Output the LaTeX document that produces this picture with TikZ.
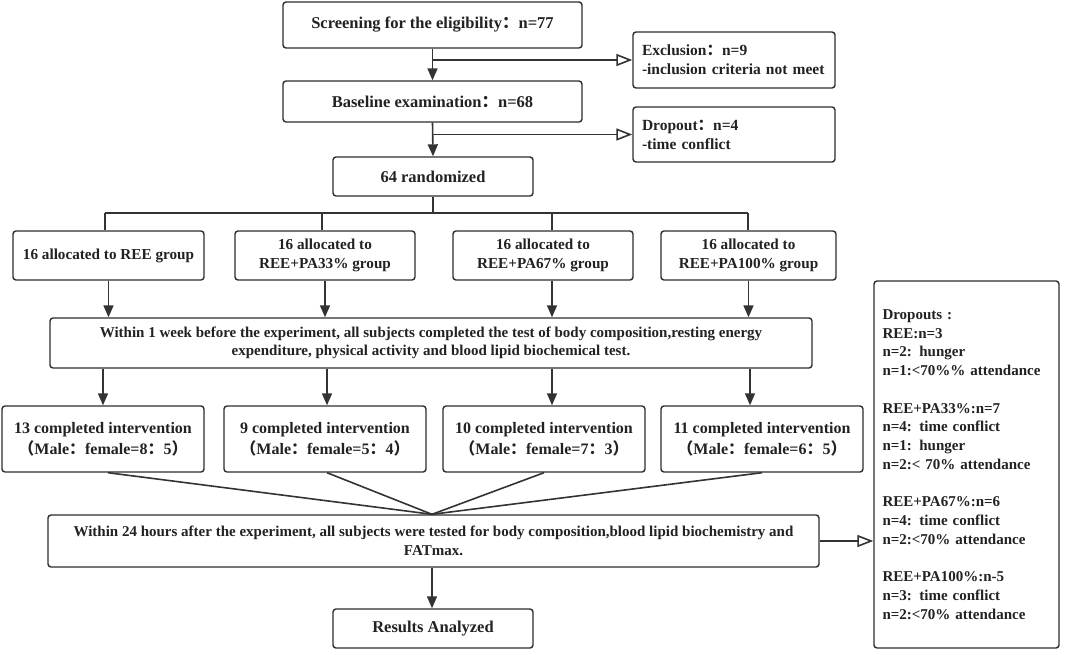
\documentclass[tikz,border=0pt]{standalone}
\usepackage{fontspec}
\setmainfont{Liberation Serif}[BoldFont={Liberation Serif Bold}]
\newfontfamily\cjk{Noto Sans CJK SC}
\usetikzlibrary{arrows.meta,calc}
\newcommand\fc{{\cjk ：}}
\newcommand\lpar{{\cjk （}}
\newcommand\rpar{{\cjk ）}}
\definecolor{boxc}{HTML}{2E2E2E}
\definecolor{linec}{HTML}{333333}
\definecolor{txtc}{HTML}{222222}
\newcommand\fs[2]{\fontsize{#1}{#2}\selectfont\bfseries}
\begin{document}
\begin{tikzpicture}[x=1pt,y=-1pt,
  bx/.style={draw=boxc, line width=1.4pt, rounded corners=3pt, fill=white, inner sep=0pt,
    align=center, text=txtc, font=\fs{15.5}{19}},
  big/.style={font=\fs{16.5}{20}},
  ln/.style={draw=linec, line width=1.6pt},
  dn/.style={ln, -{Triangle[length=12pt,width=10pt]}},
  op/.style={ln, -{Triangle[open,length=16pt,width=12pt,fill=white]}}]
\useasboundingbox (0,0) rectangle (1065,654);

% top chain
\node[bx, big, minimum width=299pt, minimum height=46pt] (scr) at (432.5,25) {Screening for the eligibility\fc n=77};
\node[bx, minimum width=202pt, minimum height=56pt, text width=184pt, align=left] (exc) at (734,60) {Exclusion\fc n=9\\-inclusion criteria not meet};
\node[bx, big, minimum width=299pt, minimum height=41pt] (base) at (432.5,101.5) {Baseline examination\fc n=68};
\node[bx, minimum width=202pt, minimum height=55pt, text width=184pt, align=left] (drp) at (734,134.5) {Dropout\fc n=4\\-time conflict};
\node[bx, big, minimum width=200pt, minimum height=39pt] (rand) at (433,176.5) {64 randomized};

% allocation
\tikzset{al/.style={bx, minimum height=49pt, font=\fs{15.2}{19}}}
\node[al, minimum width=191pt] (a1) at (108.5,255.5) {16 allocated to REE group};
\node[al, minimum width=180pt] (a2) at (325,255.5) {16 allocated to\\REE+PA33\% group};
\node[al, minimum width=180pt] (a3) at (543,255.5) {16 allocated to\\REE+PA67\% group};
\node[al, minimum width=175pt] (a4) at (748.5,255.5) {16 allocated to\\REE+PA100\% group};

\node[bx, minimum width=762pt, minimum height=50pt, font=\fs{15}{18.5}] (w1) at (431,343) {Within 1 week before the experiment, all subjects completed the test of body composition,resting energy\\expenditure, physical activity and blood lipid biochemical test.};

% completed
\tikzset{cp/.style={bx, minimum width=202pt, minimum height=66pt, font=\fs{16}{21}}}
\node[cp] (c1) at (103,439) {13 completed intervention\\\lpar Male\fc female=8\fc 5\rpar};
\node[cp] (c2) at (325,439) {9 completed intervention\\\lpar Male\fc female=5\fc 4\rpar};
\node[cp] (c3) at (544,439) {10 completed intervention\\\lpar Male\fc female=7\fc 3\rpar};
\node[cp] (c4) at (762,439) {11 completed intervention\\\lpar Male\fc female=6\fc 5\rpar};

\node[bx, minimum width=771pt, minimum height=52pt, font=\fs{15}{19}] (w24) at (433.5,541) {Within 24 hours after the experiment, all subjects were tested for body composition,blood lipid biochemistry and\\FATmax.};
\node[bx, big, minimum width=200pt, minimum height=39pt] (res) at (433,628.5) {Results Analyzed};

\node[bx, minimum width=185pt, minimum height=367pt, text width=168pt, align=left,
  font=\fs{15}{18.75}] (dro) at (966.5,464.5)
 {Dropouts :\\REE:n=3\\n=2: hunger\\n=1:<70\%\% attendance\\[18.75pt]
  REE+PA33\%:n=7\\n=4: time conflict\\n=1: hunger\\n=2:< 70\% attendance\\[18.75pt]
  REE+PA67\%:n=6\\n=4: time conflict\\n=2:<70\% attendance\\[18.75pt]
  REE+PA100\%:n-5\\n=3: time conflict\\n=2:<70\% attendance};

% connectors top
\draw[dn] (scr.south) -- (base.north);
\draw[op] (scr.south |- exc.west) -- (exc.west);
\draw[dn] (base.south) -- (rand.north);
\draw[op] (base.south |- drp.west) -- (drp.west);

% branch
\coordinate (br) at (433,213);
\draw[ln] (rand.south) -- (br);
\draw[ln] ($(a1.north |- br)+(-3.5,0)$) -- ($(a4.north |- br)+(-0.5,0)$);
\draw[ln] ($(a1.north |- br)+(-3.5,0)$) -- ($(a1.north)+(-3.5,0)$);
\draw[ln] ($(a2.north |- br)+(-3,0)$) -- ($(a2.north)+(-3,0)$);
\draw[ln] ($(a3.north |- br)+(9,0)$) -- ($(a3.north)+(9,0)$);
\draw[ln] ($(a4.north |- br)+(-0.5,0)$) -- ($(a4.north)+(-0.5,0)$);

% allocation to w1
\draw[dn] (a1.south) -- (a1.south |- w1.north);
\draw[dn] (a2.south) -- (a2.south |- w1.north);
\draw[dn] ($(a3.south)+(9,0)$) -- ($(a3.south |- w1.north)+(9,0)$);
\draw[dn] (a4.south) -- (a4.south |- w1.north);

% w1 to completed
\draw[dn] (w1.south -| c1.north) -- (c1.north);
\draw[dn] ($(w1.south -| c2.north)+(2,0)$) -- ($(c2.north)+(2,0)$);
\draw[dn] ($(w1.south -| c3.north)+(8,0)$) -- ($(c3.north)+(8,0)$);
\draw[dn] ($(w1.south -| c4.north)+(-12,0)$) -- ($(c4.north)+(-12,0)$);

% converge
\coordinate (cv) at ($(w24.north)+(-1.5,0)$);
\draw[ln] ($(c1.south)+(5,0)$) -- (cv);
\draw[ln] ($(c2.south)+(2,0)$) -- (cv);
\draw[ln] (c3.south) -- (cv);
\draw[ln] (c4.south) -- (cv);

\draw[dn] ($(w24.south)+(-1.5,0)$) -- ($(res.north)+(-1,0)$);
\draw[op] (w24.east) -- (w24.east -| dro.west);
\end{tikzpicture}
\end{document}
